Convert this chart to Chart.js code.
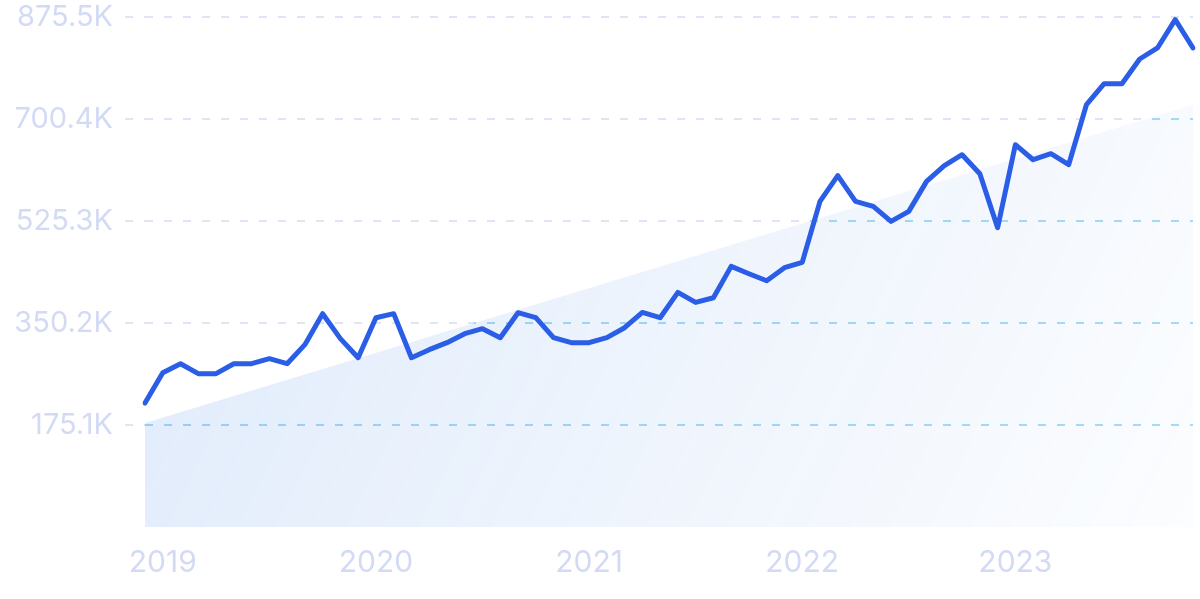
<!DOCTYPE html>
<html>
<head>
<meta charset="utf-8">
<style>
  body { margin: 0; background: #fff; }
  #wrap { width: 1200px; height: 599px; position: relative; }
</style>
</head>
<body>
<div id="wrap"><canvas id="trafficChart"></canvas></div>
<script src="https://cdn.jsdelivr.net/npm/chart.js"></script>
<script>
    // monthly points, Dec 2018 .. Nov 2023
    const months = [
        '2018-12',
        '2019-01', '2019-02', '2019-03', '2019-04', '2019-05', '2019-06', '2019-07', '2019-08', '2019-09', '2019-10', '2019-11', '2019-12',
        '2020-01', '2020-02', '2020-03', '2020-04', '2020-05', '2020-06', '2020-07', '2020-08', '2020-09', '2020-10', '2020-11', '2020-12',
        '2021-01', '2021-02', '2021-03', '2021-04', '2021-05', '2021-06', '2021-07', '2021-08', '2021-09', '2021-10', '2021-11', '2021-12',
        '2022-01', '2022-02', '2022-03', '2022-04', '2022-05', '2022-06', '2022-07', '2022-08', '2022-09', '2022-10', '2022-11', '2022-12',
        '2023-01', '2023-02', '2023-03', '2023-04', '2023-05', '2023-06', '2023-07', '2023-08', '2023-09', '2023-10', '2023-11'
    ];

    // values in thousands
    const values = [
        212.7, 264.9, 280.3, 263.2, 263.2, 280.3, 280.3, 288.9, 280.3, 313.0, 366.2, 323.3,
        290.6, 359.3, 366.2, 290.6, 304.4, 316.4, 331.8, 340.4, 325.0, 367.9, 359.3, 325.0,
        316.4, 316.4, 325.0, 342.1, 368.4, 359.3, 402.7, 385.6, 393.6, 447.4, 434.8, 422.8,
        445.1, 454.2, 559.0, 603.1, 559.0, 550.4, 524.6, 541.8, 593.3, 620.2, 639.1, 606.5,
        513.8, 656.3, 630.5, 640.8, 622.0, 725.0, 761.0, 761.0, 803.4, 822.3, 870.9, 822.3
    ];

    // trend band end points (thousands)
    const trendStart = 178.5;
    const trendEnd = 725.0;

    const yTicks = [175.1, 350.2, 525.3, 700.4, 875.5];

    const lavender = '#dfe4f7';
    const cyan = '#a6ddfa';

    Chart.defaults.font.family = 'Inter, "Noto Sans", sans-serif';

    const ctx = document.getElementById('trafficChart').getContext('2d');
    const trafficChart = new Chart(ctx, {
        type: 'line',
        data: {
            labels: months,
            datasets: [
                {
                    label: 'Traffic',
                    data: values,
                    borderColor: '#2b5ee6',
                    borderWidth: 5,
                    borderJoinStyle: 'round',
                    borderCapStyle: 'round',
                    pointRadius: 0,
                    tension: 0,
                    fill: false,
                    order: 0
                },
                {
                    label: 'Trend',
                    data: [
                        { x: months[0], y: trendStart },
                        { x: months[months.length - 1], y: trendEnd }
                    ],
                    borderWidth: 0,
                    pointRadius: 0,
                    fill: 'origin',
                    // translucent so the dashed grid shows through
                    backgroundColor: (c) => {
                        const a = c.chart.chartArea;
                        if (!a) return 'transparent';
                        const g = c.chart.ctx.createLinearGradient(a.left, a.top, a.right, a.bottom);
                        g.addColorStop(0, 'rgba(30, 110, 225, 0.15)');
                        g.addColorStop(0.5, 'rgba(30, 110, 225, 0.08)');
                        g.addColorStop(1, 'rgba(30, 110, 225, 0.015)');
                        return g;
                    },
                    order: 1
                }
            ]
        },
        options: {
            responsive: true,
            maintainAspectRatio: false,
            animation: false,
            layout: {
                padding: { left: 0, right: 7, top: 17, bottom: 20 }
            },
            plugins: {
                legend: { display: false },
                tooltip: { enabled: false }
            },
            scales: {
                x: {
                    afterFit: (axis) => {
                        axis.height = 52;
                        axis.paddingLeft = 0;
                        axis.paddingRight = 0;
                    },
                    grid: { display: false, drawTicks: false },
                    border: { display: false },
                    ticks: {
                        autoSkip: false,
                        maxRotation: 0,
                        padding: 18,
                        color: '#d3daf4',
                        font: { size: 30 },
                        callback: (v, i) => months[i].endsWith('-01') ? months[i].slice(0, 4) : ''
                    }
                },
                y: {
                    min: 0,
                    max: 875.5,
                    afterBuildTicks: (axis) => {
                        axis.ticks = yTicks.map(v => ({ value: v }));
                    },
                    afterFit: (axis) => {
                        axis.width = 145;
                        axis.paddingTop = 0;
                        axis.paddingBottom = 0;
                    },
                    border: { display: false, dash: [8, 11] },
                    grid: {
                        lineWidth: 2,
                        tickLength: 20,
                        tickColor: lavender,
                        tickBorderDash: [8, 11],
                        // lavender above the trend band, cyan inside it
                        color: (c) => {
                            const chart = c.chart;
                            const a = chart.chartArea;
                            if (!a || !c.tick) return lavender;
                            const f = (c.tick.value - trendStart) / (trendEnd - trendStart);
                            const cross = chart.scales.x.getPixelForValue(f * (months.length - 1));
                            const p = Math.min(Math.max((cross - a.left) / (a.right - a.left), 0), 1);
                            const g = chart.ctx.createLinearGradient(a.left, 0, a.right, 0);
                            g.addColorStop(0, lavender);
                            g.addColorStop(p, lavender);
                            g.addColorStop(p, cyan);
                            g.addColorStop(1, cyan);
                            return g;
                        }
                    },
                    ticks: {
                        padding: 12,
                        color: '#d3daf4',
                        font: { size: 29 },
                        callback: (v) => v.toFixed(1) + 'K'
                    }
                }
            }
        }
    });
</script>
</body>
</html>
